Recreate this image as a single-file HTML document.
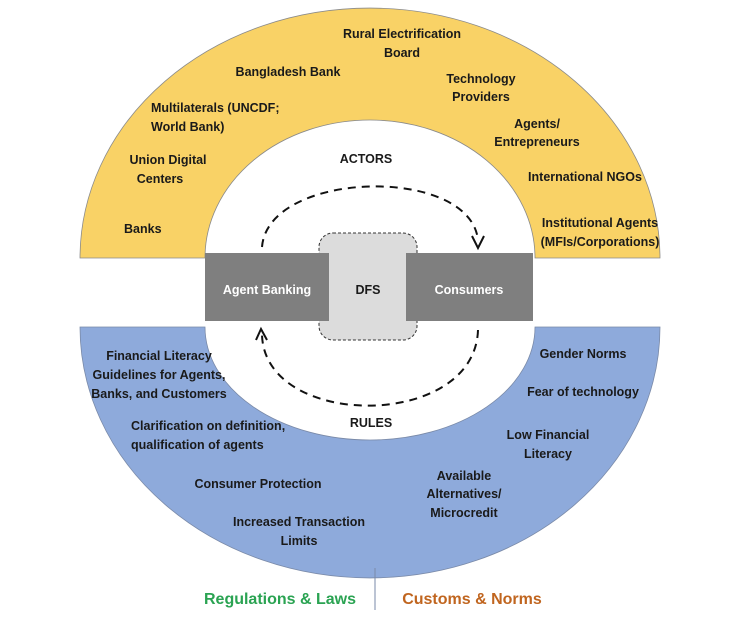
<!DOCTYPE html>
<html><head><meta charset="utf-8"><style>
html,body{margin:0;padding:0;background:#fff;}
svg{display:block;}
text{font-family:"Liberation Sans",Arial,sans-serif;font-weight:bold;font-size:12.5px;fill:#1a1a1a;}
</style></head><body>
<svg width="742" height="625" viewBox="0 0 742 625" xmlns="http://www.w3.org/2000/svg">
<!-- yellow upper half annulus -->
<path d="M80,258 A290,250 0 0 1 660,258 L535,258 A165,138 0 0 0 205,258 Z" fill="#f9d266" stroke="#8a8a8a" stroke-width="0.8"/>
<!-- blue lower half annulus -->
<path d="M80,327 A290,251 0 0 0 660,327 L535,327 A165,113 0 0 1 205,327 Z" fill="#8eaadb" stroke="#7a8aa8" stroke-width="0.8"/>
<!-- dashed arcs -->
<path d="M262,247 C268,170 470,165 478,240" fill="none" stroke="#111" stroke-width="2" stroke-dasharray="8,6"/>
<path d="M472,236 L478,248 L484,236" fill="none" stroke="#111" stroke-width="2"/>
<path d="M478,330 C475,430 265,430 262,335" fill="none" stroke="#111" stroke-width="2" stroke-dasharray="8,6"/>
<path d="M256,340 L261,329 L267,340" fill="none" stroke="#111" stroke-width="2"/>
<!-- DFS box -->
<rect x="319" y="233" width="98" height="107" rx="14" fill="#dcdcdc" stroke="#333" stroke-width="1" stroke-dasharray="3,2"/>
<rect x="205" y="253" width="124" height="68" fill="#7f7f7f"/>
<rect x="406" y="253" width="127" height="68" fill="#7f7f7f"/>
<text x="267" y="294" text-anchor="middle" fill="#fff" style="fill:#fff">Agent Banking</text>
<text x="368" y="294" text-anchor="middle">DFS</text>
<text x="469" y="294" text-anchor="middle" style="fill:#fff">Consumers</text>
<!-- yellow labels -->
<text x="402" y="38" text-anchor="middle">Rural Electrification</text>
<text x="402" y="57" text-anchor="middle">Board</text>
<text x="288" y="76" text-anchor="middle">Bangladesh Bank</text>
<text x="481" y="83" text-anchor="middle">Technology</text>
<text x="481" y="101" text-anchor="middle">Providers</text>
<text x="151" y="112">Multilaterals (UNCDF;</text>
<text x="151" y="131">World Bank)</text>
<text x="537" y="128" text-anchor="middle">Agents/</text>
<text x="537" y="146" text-anchor="middle">Entrepreneurs</text>
<text x="366" y="163" text-anchor="middle">ACTORS</text>
<text x="168" y="164" text-anchor="middle">Union Digital</text>
<text x="160" y="183" text-anchor="middle">Centers</text>
<text x="585" y="181" text-anchor="middle">International NGOs</text>
<text x="124" y="233">Banks</text>
<text x="600" y="227" text-anchor="middle">Institutional Agents</text>
<text x="600" y="246" text-anchor="middle">(MFIs/Corporations)</text>
<!-- blue labels -->
<text x="159" y="360" text-anchor="middle">Financial Literacy</text>
<text x="159" y="379" text-anchor="middle">Guidelines for Agents,</text>
<text x="159" y="398" text-anchor="middle">Banks, and Customers</text>
<text x="583" y="358" text-anchor="middle">Gender Norms</text>
<text x="583" y="396" text-anchor="middle">Fear of technology</text>
<text x="371" y="427" text-anchor="middle">RULES</text>
<text x="131" y="430">Clarification on definition,</text>
<text x="131" y="449">qualification of agents</text>
<text x="548" y="439" text-anchor="middle">Low Financial</text>
<text x="548" y="458" text-anchor="middle">Literacy</text>
<text x="464" y="480" text-anchor="middle">Available</text>
<text x="464" y="498" text-anchor="middle">Alternatives/</text>
<text x="464" y="517" text-anchor="middle">Microcredit</text>
<text x="258" y="488" text-anchor="middle">Consumer Protection</text>
<text x="299" y="526" text-anchor="middle">Increased Transaction</text>
<text x="299" y="545" text-anchor="middle">Limits</text>
<!-- legend -->
<line x1="375" y1="568" x2="375" y2="610" stroke="#7a8aa8" stroke-width="1"/>
<text x="280" y="604" text-anchor="middle" style="font-size:16px;fill:#2aa352">Regulations &amp; Laws</text>
<text x="472" y="604" text-anchor="middle" style="font-size:16px;fill:#c0651f">Customs &amp; Norms</text>
</svg>
</body></html>
